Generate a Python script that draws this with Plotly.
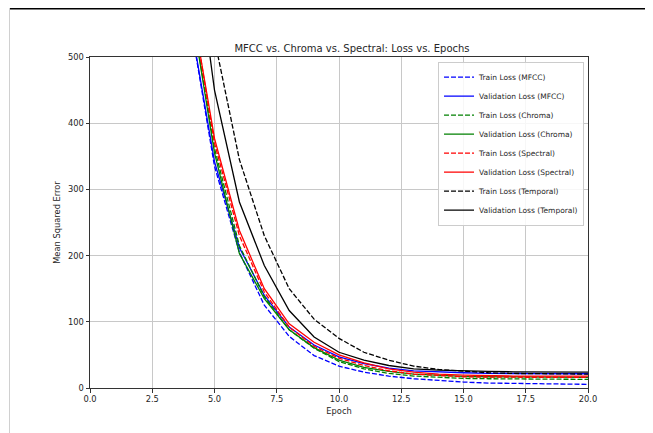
import plotly.graph_objects as go

epochs = list(range(1, 21))

train_mfcc = [2400, 1500, 900, 560, 335, 205, 125, 78, 49, 33, 24, 18, 14, 11, 9, 7.5, 7, 6.5, 6, 5.5]
val_mfcc = [2200, 1400, 850, 561, 342, 212, 140, 92, 65, 47, 37, 30, 26, 24, 23, 22, 22, 21.5, 21.5, 21.5]
train_chroma = [2500, 1550, 940, 590, 362, 215, 138, 88, 60, 40, 29, 22, 18, 16, 14.5, 14, 13.5, 13, 13, 13]
val_chroma = [2450, 1520, 930, 589, 355, 203, 135, 88, 61, 42, 31, 25, 21, 19, 17.5, 17, 16.5, 16, 16, 16]
train_spectral = [2500, 1560, 950, 600, 370, 230, 145, 92, 63, 45, 34, 26, 21, 18.5, 17, 16.5, 16, 16, 16, 16]
val_spectral = [2500, 1560, 950, 597, 377, 238, 150, 97, 69, 50, 38, 29, 24, 21, 19.5, 18.5, 18, 18, 18, 18]
train_temporal = [3500, 2100, 1300, 818, 527, 345, 230, 150, 104, 75, 54, 42, 33, 28, 25, 23, 22, 21.5, 21, 21]
val_temporal = [3100, 1900, 1180, 730, 450, 281, 185, 117, 77, 54, 42, 34, 29, 27, 25.5, 25, 24.5, 24, 24, 24]

series = [
    ("Train Loss (MFCC)", train_mfcc, "#0000ff", True),
    ("Validation Loss (MFCC)", val_mfcc, "#0000ff", False),
    ("Train Loss (Chroma)", train_chroma, "#008000", True),
    ("Validation Loss (Chroma)", val_chroma, "#008000", False),
    ("Train Loss (Spectral)", train_spectral, "#ff0000", True),
    ("Validation Loss (Spectral)", val_spectral, "#ff0000", False),
    ("Train Loss (Temporal)", train_temporal, "#000000", True),
    ("Validation Loss (Temporal)", val_temporal, "#000000", False),
]

fig = go.Figure()
for name, vals, color, dashed in series:
    fig.add_trace(go.Scatter(
        x=epochs, y=vals, mode="lines", name=name,
        line=dict(color=color, width=1.3, dash="5px,2px" if dashed else "solid"),
    ))

FONT = "DejaVu Sans, sans-serif"
axis_common = dict(
    showgrid=True, gridcolor="#c8c8c8", gridwidth=0.8,
    showline=True, linecolor="#333333", linewidth=1, mirror=True,
    ticks="outside", ticklen=3.5, tickcolor="#333333",
    tickfont=dict(family=FONT, size=8.3, color="#262626"),
    zeroline=False,
)

W, H = 645, 425          # page body has an 8px margin
L, R, T, B = 82, 65, 49, 45
PW, PH = W - L - R, H - T - B

fig.update_layout(
    width=W, height=H,
    margin=dict(l=L, r=R, t=T, b=B),
    paper_bgcolor="white", plot_bgcolor="white",
    title=dict(text="MFCC vs. Chroma vs. Spectral: Loss vs. Epochs",
               x=344 / W, xanchor="center", y=1 - 40 / H, yanchor="middle",
               font=dict(family=FONT, size=10, color="#262626")),
    xaxis=dict(range=[0, 20], tickvals=[0, 2.5, 5, 7.5, 10, 12.5, 15, 17.5, 20],
               ticktext=["0.0", "2.5", "5.0", "7.5", "10.0", "12.5", "15.0", "17.5", "20.0"],
               title=dict(text="Epoch", font=dict(family=FONT, size=8.3, color="#262626"), standoff=4),
               **axis_common),
    yaxis=dict(range=[0, 500], tickvals=[0, 100, 200, 300, 400, 500],
               title=dict(text="Mean Squared Error", font=dict(family=FONT, size=8.3, color="#262626"), standoff=6),
               **axis_common),
    legend=dict(x=0.992, y=0.986, xanchor="right", yanchor="top",
                bgcolor="rgba(255,255,255,0.85)", bordercolor="#cccccc", borderwidth=1,
                font=dict(family=FONT, size=7.5, color="#262626"),
                tracegroupgap=0, itemwidth=30),
    showlegend=True,
)

def px_x(p):
    return (p - L) / PW

def px_y(p):
    return (H - B - p) / PH

# screenshot frame lines around the figure
fig.add_shape(type="line", xref="paper", yref="paper",
              x0=px_x(2), x1=px_x(640), y0=px_y(0.75), y1=px_y(0.75),
              line=dict(color="black", width=1.5))
fig.add_shape(type="line", xref="paper", yref="paper",
              x0=px_x(1.5), x1=px_x(1.5), y0=px_y(H), y1=px_y(0),
              line=dict(color="#d0d0d0", width=1))
fig.add_shape(type="line", xref="paper", yref="paper",
              x0=px_x(638), x1=px_x(638), y0=px_y(H), y1=px_y(0),
              line=dict(color="#a0a0a0", width=2))

fig.write_html("out.html")
